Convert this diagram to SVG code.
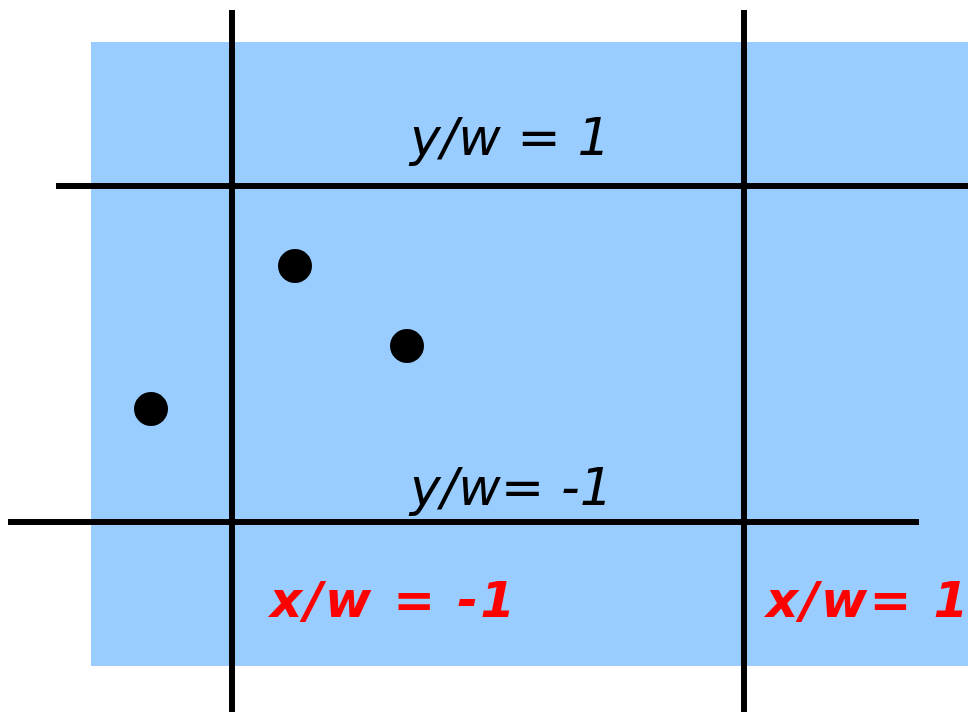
<svg xmlns="http://www.w3.org/2000/svg" width="968" height="712" viewBox="0 0 968 712">
<style>
.ln{stroke:#000;stroke-width:6;fill:none}
.dot{fill:#000}
.lbl{font-family:"DejaVu Sans",Verdana,sans-serif;font-style:italic;font-size:52px;fill:#000}
.red{font-family:"DejaVu Sans",Verdana,sans-serif;font-style:italic;font-weight:bold;font-size:50px;letter-spacing:2.3px;fill:#ff0000}
</style>
<rect x="91" y="42" width="877" height="624" fill="#99ccff"/>
<g id="connectors">
<line class="ln" x1="232" y1="10" x2="232" y2="712"/>
<line class="ln" x1="744" y1="10" x2="744" y2="712"/>
<line class="ln" x1="56" y1="186" x2="968" y2="186"/>
<line class="ln" x1="8" y1="522" x2="919" y2="522"/>
</g>
<g id="p1"><circle class="dot" cx="295" cy="266" r="17"/></g>
<g id="p2"><circle class="dot" cx="407" cy="346" r="17"/></g>
<g id="p3"><circle class="dot" cx="151" cy="409" r="17"/></g>
<text class="lbl" x="410" y="155">y/w = 1</text>
<text class="lbl" x="410" y="505">y/w= -1</text>
<text class="red" x="270" y="617">x/w = -1</text>
<text class="red" x="766" y="617">x/w= 1</text>
</svg>
